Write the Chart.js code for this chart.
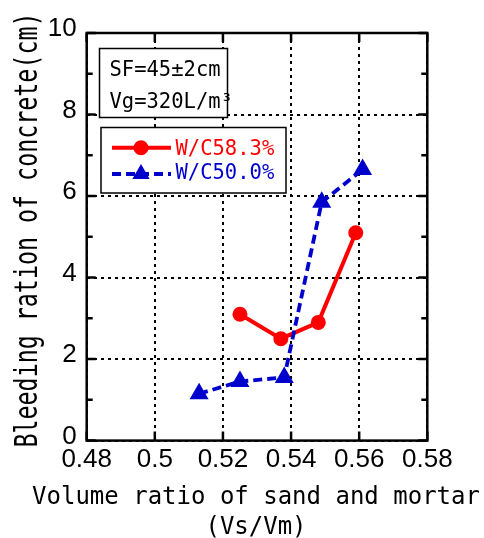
<!DOCTYPE html>
<html>
<head>
<meta charset="utf-8">
<title>Bleeding ratio</title>
<script src="https://cdn.jsdelivr.net/npm/chart.js"></script>
<style>
    body { margin: 0; background: #fff; }
    #wrap { width: 484px; height: 538px; }
</style>
</head>
<body>
<div id="wrap"><canvas id="bleedChart" width="484" height="538"></canvas></div>
<script>
// Du lieu doc tu hinh
const redX = [0.525, 0.537, 0.548, 0.559];
const redY = [3.1, 2.5, 2.9, 5.1];
const blueX = [0.513, 0.525, 0.538, 0.549, 0.561];
const blueY = [1.15, 1.45, 1.55, 5.85, 6.65];

const seriesLabels = ['W/C58.3%', 'W/C50.0%'];

const xTickValues = [0.48, 0.50, 0.52, 0.54, 0.56, 0.58];
const xTickLabels = ['0.48', '0.5', '0.52', '0.54', '0.56', '0.58'];
const yTickValues = [0, 2, 4, 6, 8, 10];
const yTickLabels = ['0', '2', '4', '6', '8', '10'];
const yMinorTicks = [1, 3, 5, 7, 9];

const xTitle = ['Volume ratio of sand and mortar', '(Vs/Vm)'];
const yTitle = 'Bleeding ration of concrete(cm)';
const noteLines = ['SF=45\u00b12cm', 'Vg=320L/m\u00b3'];

const RED = '#ff0000';
const BLUE = '#0000cc';
const MONO = '"DejaVu Sans Mono", "Liberation Mono", monospace';

function toPoints(xs, ys) {
    return xs.map((v, i) => ({ x: v, y: ys[i] }));
}

// ve marker giong Chart.js
function marker(ctx, style, r, x, y, color) {
    ctx.fillStyle = color;
    ctx.beginPath();
    if (style === 'triangle') {
        let rad = 0;
        ctx.moveTo(x + Math.sin(rad) * r, y - Math.cos(rad) * r);
        rad += Math.PI * 2 / 3;
        ctx.lineTo(x + Math.sin(rad) * r, y - Math.cos(rad) * r);
        rad += Math.PI * 2 / 3;
        ctx.lineTo(x + Math.sin(rad) * r, y - Math.cos(rad) * r);
        ctx.closePath();
    } else {
        ctx.arc(x, y, r, 0, Math.PI * 2);
    }
    ctx.fill();
}

// khung, vach chia, tieu de truc, chu thich
const decorations = {
    id: 'decorations',
    afterDraw(chart) {
        const ctx = chart.ctx;
        const a = chart.chartArea;
        const xs = chart.scales.x;
        const ys = chart.scales.y;
        ctx.save();

        // vach chia huong vao trong
        ctx.strokeStyle = '#000';
        ctx.lineWidth = 2.5;
        ctx.setLineDash([]);
        ctx.beginPath();
        xTickValues.forEach(v => {
            const px = xs.getPixelForValue(v);
            ctx.moveTo(px, a.bottom); ctx.lineTo(px, a.bottom - 9);
            ctx.moveTo(px, a.top); ctx.lineTo(px, a.top + 9);
        });
        yTickValues.forEach(v => {
            const py = ys.getPixelForValue(v);
            ctx.moveTo(a.left, py); ctx.lineTo(a.left + 9, py);
            ctx.moveTo(a.right, py); ctx.lineTo(a.right - 9, py);
        });
        yMinorTicks.forEach(v => {
            const py = ys.getPixelForValue(v);
            ctx.moveTo(a.left, py); ctx.lineTo(a.left + 6, py);
            ctx.moveTo(a.right, py); ctx.lineTo(a.right - 6, py);
        });
        ctx.stroke();
        ctx.strokeRect(a.left, a.top, a.right - a.left, a.bottom - a.top);

        // hop ghi chu SF / Vg
        ctx.lineWidth = 1.5;
        ctx.fillStyle = '#fff';
        ctx.fillRect(99.5, 48.5, 128, 69);
        ctx.strokeRect(99.5, 48.5, 128, 69);
        ctx.fillStyle = '#000';
        ctx.font = '20.5px ' + MONO;
        ctx.textAlign = 'left';
        ctx.textBaseline = 'alphabetic';
        ctx.fillText(noteLines[0], 109.5, 76);
        ctx.fillText(noteLines[1], 109.5, 107.5);

        // chu thich
        ctx.fillStyle = '#fff';
        ctx.fillRect(101, 127.5, 185, 65.5);
        ctx.strokeRect(101, 127.5, 185, 65.5);
        const rows = [147.7, 174];
        const textY = [155, 179];
        chart.data.datasets.forEach((ds, i) => {
            ctx.strokeStyle = ds.borderColor;
            ctx.lineWidth = ds.borderWidth;
            ctx.setLineDash(ds.borderDash || []);
            ctx.beginPath();
            ctx.moveTo(112, rows[i]);
            ctx.lineTo(171, rows[i]);
            ctx.stroke();
            ctx.setLineDash([]);
            marker(ctx, ds.pointStyle, ds.pointStyle === 'triangle' ? 10 : ds.pointRadius, 141, rows[i], ds.borderColor);
            ctx.fillStyle = ds.borderColor;
            ctx.font = '20.5px ' + MONO;
            ctx.fillText(ds.label, 175.5, textY[i]);
        });

        // tieu de truc x (2 dong)
        ctx.fillStyle = '#000';
        ctx.font = '24px ' + MONO;
        ctx.textAlign = 'center';
        ctx.fillText(xTitle[0], 256, 503.5);
        ctx.fillText(xTitle[1], 256, 533.5);

        // tieu de truc y (xoay, chu hep)
        ctx.translate(37, 230);
        ctx.rotate(-Math.PI / 2);
        ctx.scale(0.74, 1);
        ctx.font = '31.5px ' + MONO;
        ctx.fillText(yTitle, 0, 0);

        ctx.restore();
    }
};

const ctx = document.getElementById('bleedChart').getContext('2d');
const chart = new Chart(ctx, {
    type: 'scatter',
    data: {
        datasets: [{
            label: seriesLabels[0],
            data: toPoints(redX, redY),
            showLine: true,
            borderColor: RED,
            backgroundColor: RED,
            borderWidth: 4,
            pointStyle: 'circle',
            pointRadius: 7.5,
            pointBorderWidth: 0,
            order: 2
        }, {
            label: seriesLabels[1],
            data: toPoints(blueX, blueY),
            showLine: true,
            borderColor: BLUE,
            backgroundColor: BLUE,
            borderWidth: 3.8,
            borderDash: [9, 5],
            pointStyle: 'triangle',
            pointRadius: 11,
            pointBorderWidth: 0,
            order: 1
        }]
    },
    options: {
        responsive: false,
        animation: false,
        layout: {
            padding: { top: 33, right: 56.7, bottom: 0, left: 0 }
        },
        plugins: {
            legend: { display: false },
            tooltip: { enabled: false }
        },
        scales: {
            x: {
                type: 'linear',
                min: 0.48,
                max: 0.58,
                afterBuildTicks: s => { s.ticks = xTickValues.map(v => ({ value: v })); },
                afterFit: s => { s.height = 538 - 440.6; },
                ticks: {
                    autoSkip: false,
                    maxRotation: 0,
                    padding: 4,
                    color: '#000',
                    font: { family: '"Liberation Sans", Arial, sans-serif', size: 26 },
                    callback: (v, i) => xTickLabels[i]
                },
                grid: { color: '#000', lineWidth: 2, drawTicks: false },
                border: { display: false, dash: [3, 4] }
            },
            y: {
                type: 'linear',
                min: 0,
                max: 10,
                afterBuildTicks: s => { s.ticks = yTickValues.map(v => ({ value: v })); },
                afterFit: s => { s.width = 86.7; },
                ticks: {
                    autoSkip: false,
                    padding: 10,
                    labelOffset: -4,
                    color: '#000',
                    font: { family: '"Liberation Sans", Arial, sans-serif', size: 26 },
                    callback: (v, i) => yTickLabels[i]
                },
                grid: { color: '#000', lineWidth: 2, drawTicks: false },
                border: { display: false, dash: [3, 4] }
            }
        }
    },
    plugins: [decorations]
});
</script>
</body>
</html>
